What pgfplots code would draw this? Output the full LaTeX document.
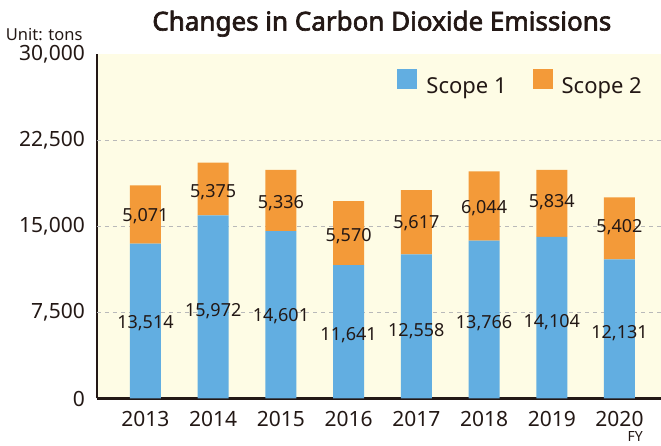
\documentclass[border=0pt]{standalone}
\usepackage{pgfplots}
\pgfplotsset{compat=1.18}
\usepackage{pgfplotstable}
\usepackage{fontspec}
\setmainfont{Noto Sans}[AutoFakeBold=2.4]
\definecolor{bgyel}{RGB}{254,252,229}
\definecolor{sblue}{RGB}{98,174,225}
\definecolor{sorange}{RGB}{243,154,57}
\definecolor{txt}{RGB}{35,24,21}
\definecolor{gridg}{RGB}{185,185,185}

\pgfplotstableread{
x s1 s2
0 13514 5071
1 15972 4600
2 14601 5336
3 11641 5570
4 12558 5617
5 13766 6044
6 14104 5834
7 12131 5402
}\data
\pgfplotstableread{
x y label
0 6610 13,514
1 7656 15,972
2 7220 14,601
3 5537 11,641
4 5886 12,558
5 6557 13,766
6 6671 14,104
7 5738 12,131
}\lblone
\pgfplotstableread{
x y label
0 15914 5,071
1 18033 5,375
2 17021 5,336
3 14170 5,570
4 15277 5,617
5 16585 6,044
6 17161 5,834
7 14929 5,402
}\lbltwo

\begin{document}
\begin{tikzpicture}
\begin{axis}[
  scale only axis, width=564pt, height=344pt,
  xmin=-0.716, xmax=7.613, ymin=0, ymax=30000,
  ybar stacked, bar width=31pt,
  axis x line*=bottom, axis y line*=left,
  axis line style={line width=2.4pt, txt, -},
  axis background/.style={fill=bgyel},
  xtick={0,1,2,3,4,5,6,7},
  xticklabels={2013,2014,2015,2016,2017,2018,2019,2020},
  ytick={0,7500,15000,22500,30000},
  yticklabels={0,{7,500},{15,000},{22,500},{30,000}},
  scaled y ticks=false,
  major tick length=0pt,
  extra y ticks={7500,15000,22500}, extra y tick labels={},
  extra y tick style={grid=major},
  major grid style={gridg, line width=0.9pt, dash pattern=on 4pt off 4pt},
  xticklabel style={font=\fontsize{21}{21}\selectfont, text=txt, anchor=base, inner sep=0pt, yshift=-28pt},
  yticklabel style={font=\fontsize{21}{21}\selectfont, text=txt, anchor=east, inner sep=0pt, xshift=-12pt},
  title={Changes in Carbon Dioxide Emissions},
  title style={font=\bfseries\fontsize{26}{26}\selectfont, text=txt, at={(axis description cs:0.505,1)}, anchor=base, yshift=18pt},
  legend columns=2,
  legend image code/.code={\fill[#1] (0pt,-2pt) rectangle (20pt,18pt);},
  legend style={draw=none, fill=none, at={(axis description cs:1,1)}, anchor=north east,
    xshift=-16pt, yshift=-14pt, inner sep=0pt,
    font=\fontsize{22}{22}\selectfont, text=txt,
    nodes={inner sep=3pt},
    /tikz/every odd column/.append style={column sep=6pt},
    /tikz/every even column/.append style={column sep=23pt}},
  clip=false,
]
\addplot[fill=sblue, draw=none] table[x=x, y=s1] {\data};
\addlegendentry{Scope 1}
\addplot[fill=sorange, draw=none] table[x=x, y=s2] {\data};
\addlegendentry{Scope 2}
\node[anchor=base east, font=\fontsize{16.5}{16.5}\selectfont, text=txt] at (axis description cs:0,1) [xshift=-11pt, yshift=13.8pt] {Unit: tons};
\node[anchor=base east, inner sep=0pt, font=\fontsize{14}{14}\selectfont, text=txt] at (axis description cs:1,0) [xshift=-18pt, yshift=-43.5pt] {FY};
\end{axis}
\begin{axis}[
  scale only axis, width=564pt, height=344pt,
  xmin=-0.716, xmax=7.613, ymin=0, ymax=30000,
  hide axis, clip=false,
]
\addplot[draw=none, mark=none, nodes near coords, point meta=explicit symbolic,
  every node near coord/.style={anchor=center, inner sep=0pt, font=\fontsize{18}{18}\selectfont, text=txt}]
  table[x=x, y=y, meta=label] {\lblone};
\addplot[draw=none, mark=none, nodes near coords, point meta=explicit symbolic,
  every node near coord/.style={anchor=center, inner sep=0pt, font=\fontsize{18}{18}\selectfont, text=txt}]
  table[x=x, y=y, meta=label] {\lbltwo};
\end{axis}
\pgfresetboundingbox
\path[use as bounding box] (-97pt,-47.5pt) rectangle (564pt,398.5pt);
\end{tikzpicture}
\end{document}
